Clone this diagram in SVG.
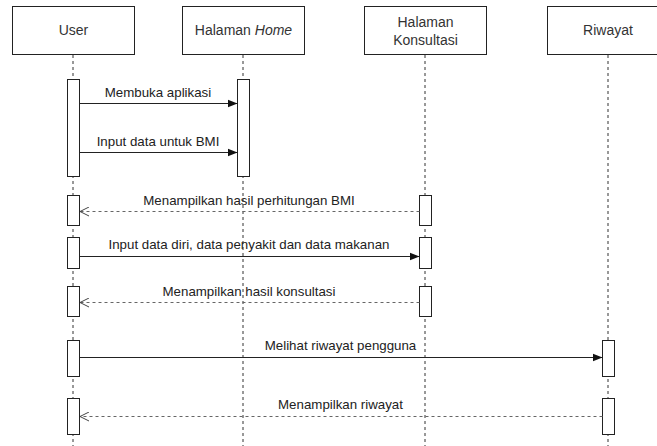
<svg xmlns="http://www.w3.org/2000/svg" width="657" height="446" viewBox="0 0 657 446">
<style>
.hdr{fill:#fff;stroke:#222;stroke-width:1}
.ht{font-family:"Liberation Sans",Arial,sans-serif;font-size:14px;fill:#333;text-anchor:middle}
.life{stroke:#333;stroke-width:1;stroke-dasharray:3,3;fill:none}
.act{fill:#fff;stroke:#222;stroke-width:1}
.msg{stroke:#222;stroke-width:1;fill:none}
.ret{stroke:#666;stroke-width:1;stroke-dasharray:3,3;fill:none}
.mt{font-family:"Liberation Sans",Arial,sans-serif;font-size:13.3px;fill:#222;text-anchor:middle}
</style>
<defs>
<marker id="solid" viewBox="0 0 10 10" refX="10" refY="5" markerWidth="10" markerHeight="10" markerUnits="userSpaceOnUse" orient="auto">
<path d="M0,1 L10,5 L0,9 Z" fill="#111"/>
</marker>
<marker id="open" viewBox="0 0 10 10" refX="9" refY="5" markerWidth="10" markerHeight="10" markerUnits="userSpaceOnUse" orient="auto">
<path d="M0,0.5 L9,5 L0,9.5" fill="none" stroke="#444" stroke-width="1"/>
</marker>
</defs>
<rect width="657" height="446" fill="#fff"/>
<g id="lifelines">
<line class="life" x1="73" y1="55" x2="73" y2="446"/>
<line class="life" x1="243" y1="55" x2="243" y2="446"/>
<line class="life" x1="425" y1="55" x2="425" y2="446"/>
<line class="life" x1="608" y1="55" x2="608" y2="446"/>
</g>
<g id="user">
<rect class="hdr" x="12.5" y="6.5" width="122" height="48"/>
<text class="ht" x="73.5" y="35">User</text>
</g>
<g id="home">
<rect class="hdr" x="182.5" y="6.5" width="122" height="48"/>
<text class="ht" x="243.5" y="35">Halaman <tspan font-style="italic">Home</tspan></text>
</g>
<g id="konsultasi">
<rect class="hdr" x="364.5" y="6.5" width="122" height="48"/>
<text class="ht" x="425.5" y="27">Halaman</text>
<text class="ht" x="425.5" y="45">Konsultasi</text>
</g>
<g id="riwayat">
<rect class="hdr" x="547.5" y="6.5" width="122" height="48"/>
<text class="ht" x="608" y="35">Riwayat</text>
</g>
<g id="activations">
<rect class="act" x="67.5" y="79.5" width="12" height="97"/>
<rect class="act" x="237.5" y="79.5" width="12" height="97"/>
<rect class="act" x="67.5" y="195.5" width="12" height="30"/>
<rect class="act" x="419.5" y="195.5" width="12" height="30"/>
<rect class="act" x="67.5" y="237.5" width="12" height="31"/>
<rect class="act" x="419.5" y="237.5" width="12" height="31"/>
<rect class="act" x="67.5" y="286.5" width="12" height="30"/>
<rect class="act" x="419.5" y="286.5" width="12" height="30"/>
<rect class="act" x="67.5" y="340.5" width="12" height="36"/>
<rect class="act" x="602.5" y="340.5" width="12" height="36"/>
<rect class="act" x="67.5" y="398.5" width="12" height="36"/>
<rect class="act" x="602.5" y="398.5" width="12" height="36"/>
</g>
<g id="connectors">
<line class="msg" x1="79.5" y1="103.5" x2="237.5" y2="103.5" marker-end="url(#solid)"/>
<line class="msg" x1="79.5" y1="152.5" x2="237.5" y2="152.5" marker-end="url(#solid)"/>
<line class="ret" x1="419.5" y1="211.5" x2="80" y2="211.5" marker-end="url(#open)"/>
<line class="msg" x1="79.5" y1="256.5" x2="419.5" y2="256.5" marker-end="url(#solid)"/>
<line class="ret" x1="419.5" y1="302.5" x2="80" y2="302.5" marker-end="url(#open)"/>
<line class="msg" x1="79.5" y1="357.5" x2="602.5" y2="357.5" marker-end="url(#solid)"/>
<line class="ret" x1="602.5" y1="416.5" x2="80" y2="416.5" marker-end="url(#open)"/>
<text class="mt" x="158" y="97">Membuka aplikasi</text>
<text class="mt" x="158" y="146">Input data untuk BMI</text>
<text class="mt" x="249" y="205">Menampilkan hasil perhitungan BMI</text>
<text class="mt" x="249" y="249">Input data diri, data penyakit dan data makanan</text>
<text class="mt" x="249" y="296">Menampilkan hasil konsultasi</text>
<text class="mt" x="340.5" y="350">Melihat riwayat pengguna</text>
<text class="mt" x="340.5" y="409">Menampilkan riwayat</text>
</g>
</svg>
